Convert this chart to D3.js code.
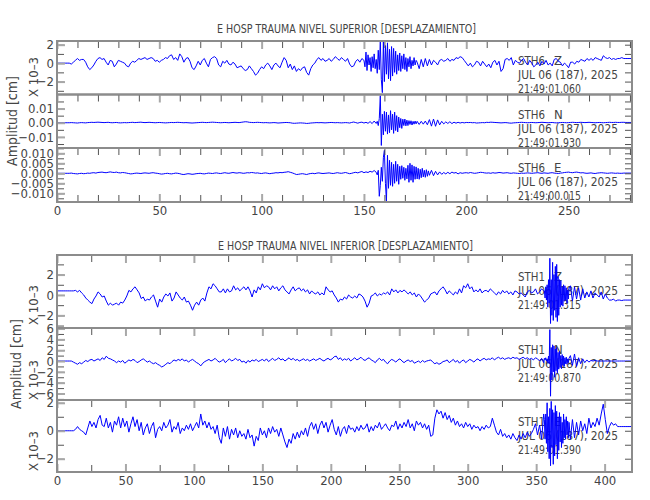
<!DOCTYPE html>
<html>
<head>
<meta charset="utf-8">
<script src="https://cdn.jsdelivr.net/npm/d3@7"></script>
<style>
  body { margin: 0; background: #fff; }
  text { font-family: "Liberation Sans Narrow", "DejaVu Sans Condensed", sans-serif; fill: #444; }
</style>
</head>
<body>
<script>
// Sample spacing (s) of each record, and of the denser windows around the arrival
var supStep = 1;
var infStep = 1.5;
var burstStep = 0.5;

// NIVEL SUPERIOR, values in 10^-3 cm, one per second
var supZ = [
  0,0,0,0,0,0,0,-0.1,0.1,0.3,
  0.5,0.3,0.4,0.4,0.1,-0.4,-0.7,-0.5,-0.2,0.2,
  0.5,0.6,0.4,0.5,0.1,-0.2,0.3,0.2,-0.4,-0.1,
  0.3,0.2,0.1,0,-0.3,-0.4,0,0.2,0.1,0.3,
  0.5,0.4,0.5,0.6,0.4,0.5,0.6,0.5,0.2,0.3,
  0.1,0.3,0.4,0.6,0.5,0.8,0.9,0.4,0.6,0.3,
  1.0,0.7,0.1,0.5,0.6,0.2,-0.5,-0.7,-0.3,0.2,
  -0.2,0.3,0.5,0,-0.4,0.4,0.6,0.7,0.5,-0.2,
  -0.4,0.2,0,0.3,-0.1,-0.2,0.1,-0.1,-0.5,-0.4,
  -0.3,-0.6,-0.8,-0.7,-0.3,-0.6,-0.9,-1.3,-1.1,-0.7,
  -0.4,-0.6,-0.2,0,-0.3,-0.7,-0.2,0,-0.3,-0.5,
  0.1,0.6,0.3,-0.5,-0.1,-0.7,-0.3,-0.9,-0.6,-0.8,
  -0.5,-0.4,-1.0,-1.3,-0.6,-0.2,0,0.4,0.6,0.3,
  0.5,0.2,0.3,0.5,0.2,0.4,0.7,0.5,0.3,0.6,
  0.4,0.2,0.5,-0.1,-0.4,-0.3,0.2,0.4,0.1,0.5,
  0.3,-0.5,1.1,-0.9,0.8,-0.6,1.4,-1.2,1.9,-3.2,
  2.4,-2.1,1.8,-1.9,2.2,-1.6,1.3,-1.4,1.0,-1.0,
  0.9,-0.8,0.8,-1.1,0.6,-0.5,0.7,-0.6,0.4,-0.4,
  0.5,-0.3,0.4,-0.2,0.3,0.1,-0.2,0.3,0.4,0.2,
  0.3,0.5,0.2,0.4,0.3,0.6,0.5,0.7,0.6,0.3,
  0,-0.3,0,-0.4,-0.2,0.2,0.1,-0.3,0.2,-0.1,
  -0.4,-0.1,-0.5,0.1,0.3,-0.2,0.2,-0.9,-0.6,0.4,
  0.5,0.3,0.6,-0.2,0.3,0.1,0,0.3,0.5,0.1,
  -0.2,0.3,0,-0.4,-0.2,0.1,-0.3,0.2,-0.1,0.3,
  -0.2,0,-0.3,0.4,0.5,0.2,0.1,-0.3,0,-0.2,
  -0.5,0.1,0.1,-0.1,0.2,0.1,0.4,0.3,0.2,0.5,
  0.3,0.5,0.3,0.6,0.5,0.4,0.3,0.8,0.6,0.5,
  0.6,0.4,0.5,0.4,0.5,0.5,0.6,0.5,0.5,0.5,
  0.5,0.5,0.5
];
var supN = [
  0,0,0,0,0,0,0,0.1,0,-0.1,
  -0.2,0,0.1,0,-0.1,0.1,0.2,0.3,0.2,0.3,
  0.4,0.3,0.2,0.1,0.2,0.3,0.1,0,0.1,0.2,
  0,-0.1,0,0.1,0,0.1,0.2,0.3,0.1,0.2,
  0.3,0.4,0.2,0.1,0.2,0.3,0.2,0.1,0,0.1,
  0.2,0.1,0,-0.1,0,0.1,0.2,0.1,0.2,0.3,
  0.2,0.1,0,0.1,0,-0.1,-0.2,-0.1,0,0.1,
  0.2,0.3,0.2,0.1,0.2,0.3,0.4,0.3,0.2,0.1,
  0,0.1,0.2,0.1,0,0.1,0.2,0.3,0.2,0.1,
  0.3,0.5,0.7,0.6,0.3,0.2,0.1,0.2,0.3,0.2,
  0.1,0,0.1,0,-0.1,0,0.1,0,-0.2,-0.1,
  0,0.1,0.2,0.1,0,-0.3,-0.4,-0.3,-0.2,-0.1,
  -0.2,-0.3,-0.5,-0.4,-0.2,-0.1,0,0.1,0,0.1,
  0,-0.1,0,0.1,0.2,0.1,0,0.1,0,-0.1,
  0,0.1,0,-0.2,0.2,0.5,0.1,-0.3,0.2,0.4,
  -0.2,0.3,-0.4,0.8,-0.6,1.2,-2.5,3.0,19.0,-16.0,
  8.5,-7.5,7.0,-8.0,6.5,-6.0,7.5,-5.5,4.5,-3.5,
  3.0,-2.5,2.5,-2.0,1.8,-1.5,1.6,-1.2,1.0,-1.0,
  1.2,-1.4,2.2,-2.4,2.6,-2.5,2.0,-1.5,1.0,-0.8,
  0.6,-0.5,0.7,-0.6,0.4,-0.3,0.3,-0.2,0.2,-0.1,
  0.2,0.1,0.2,0,0.1,-0.2,-0.1,0,0.1,0,
  0.3,0.2,0.4,0.3,0.2,0.1,0,-0.1,0,0.1,
  0,-0.2,-0.3,-0.1,0,0.1,0.2,0.3,0.2,0.1,
  0,0.1,0.2,0.1,0,0.1,0.2,0.3,0.2,0.1,
  0,0.1,0.2,0,-0.1,0,0.1,0.2,0.1,0,
  0.1,0.2,0.3,0.2,0.1,0.2,0.3,0.2,0.1,0.2,
  0.3,0.2,0.1,0,0.1,0.2,0.1,0,0.1,0.2,
  0.3,0.2,0.2,0.3,0.2,0.2,0.3,0.3,0.2,0.2,
  0.2,0.2,0.2
];
var supE = [
  0,0,0,0,0,0,0,0.1,-0.1,-0.2,
  -0.3,-0.1,0,-0.2,-0.1,0.1,0,0.2,0.3,0.1,
  0.4,0.5,0.6,0.4,0.3,0.5,0.7,0.5,0.4,0.6,
  0.3,0.2,0.4,0.3,0.1,-0.1,-0.3,-0.2,0,0.1,
  0,-0.1,0.1,0.2,0.1,0,0.2,0.3,0.1,0,
  -0.2,-0.4,-0.3,-0.1,0,-0.2,-0.3,-0.1,0.1,0,
  -0.2,-0.5,-0.6,-0.4,-0.2,-0.3,-0.5,-0.4,-0.2,-0.1,
  0,-0.2,-0.3,-0.1,0.1,0,-0.1,0.1,0.2,0,
  -0.1,0.1,0.3,0.1,0,0.2,0.4,0.2,0.1,0.3,
  0.2,0,0.1,0.3,0.2,0.4,0.3,0.1,0.2,0,
  -0.1,0.1,0.2,0,-0.2,0,0.1,0.3,0.2,0.4,
  0.3,0.5,0.6,0.8,0.5,0.2,-0.2,-0.6,-0.5,-0.3,
  -0.2,-0.4,-0.6,-0.3,-0.1,0,-0.2,0.1,0.2,0,
  -0.1,0,0.1,0.2,0,-0.1,0.1,0.3,0.1,0,
  0.2,0.4,0.1,-0.2,0,0.3,0.5,0.2,0.6,0.9,
  0.3,0.7,0.4,1.0,0.6,1.4,-0.8,-11.5,2.5,11.0,
  -14.0,11.5,-8.0,7.0,-6.5,6.0,-5.5,5.0,-4.5,4.0,
  -3.0,3.5,-4.0,5.0,-4.5,4.0,-3.5,3.0,-3.0,2.8,
  -2.5,2.2,-2.0,1.5,-1.2,1.0,-0.8,0.7,-0.5,0.4,
  -0.3,0.5,-0.2,0.6,0.1,0.4,-0.3,0.3,0,0.2,
  0.3,0.1,0.4,0.2,0,0.1,0.3,0.5,0.4,0.2,
  0.1,0.2,0,0.3,0.1,0.2,0.4,0.3,0.1,0.2,
  0.3,0.1,0,0.2,0.1,0,-0.1,0.1,0,0.1,
  0.2,0.1,0,0.1,0.2,0.3,0.1,0,0.2,0.1,
  0,0.2,0.3,0.1,0,-0.1,0.1,0.2,0.4,0.5,
  0.6,0.4,0.3,0.5,0.6,0.4,0.2,0.3,0.1,0,
  0.1,0.2,0,-0.1,0.1,0.2,0.3,0.2,0.1,0,
  0.1,0.2,0.1,0,0.1,0,0,0.1,0.1,0.1,
  0.1,0.1,0.1
];

// Arrival windows read every 0.5 s (10^-3 cm), with their start times
var supBurstStart = [150, 156, 156];
var supZBurst = [
  0.3,-0.4,1.2,-0.8,0.9,-0.2,0.6,-0.9,0.7,-0.5,
  1.0,-0.6,0.4,-1.1,1.4,-0.7,2.4,-1.8,-3.2,2.3,
  -2.0,1.9,-1.2,2.2,-1.7,1.5,-1.9,1.8,-1.4,1.6,
  -1.0,1.3,-1.2,0.9,-0.8,1.1,-0.9,0.8,-0.6,1.0,
  -0.7,0.6,-0.9,0.5,-0.4,0.7,-0.6,0.3,-0.3,0.6,
  -0.2,0.3,0.1
];
var supNBurst = [
  -0.5,1.0,-2.0,3.0,19.0,-16.0,6.0,-8.5,8.0,-6.0,
  7.5,-8.0,5.5,-7.0,8.5,-5.0,6.0,-7.5,7.5,-5.5,
  5.0,-6.5,4.0,-3.5,3.0,-4.0,2.5,-2.0,2.6,-2.2,
  1.8,-2.0,1.5,-1.2,1.4,-1.6,1.0,-1.0,1.2,-0.8,
  1.0
];
var supEBurst = [
  0.5,-0.8,1.5,-11.5,-6.0,3.0,-4.0,8.0,11.5,-5.0,
  -14.0,9.0,-7.5,6.5,-6.0,5.5,-6.5,4.5,-5.0,6.0,
  -4.0,4.5,-5.5,3.5,-3.0,3.8,-2.5,3.0,-3.5,2.5,
  -2.8,4.0,-4.5,5.0,-3.5,4.2,-4.5,3.5,-3.0,3.2,
  -2.8,2.5,-3.0,2.0,-2.2,2.5,-1.8,1.5,-2.0,1.8,
  -1.5,1.2,-1.0
];

// NIVEL INFERIOR, values in 10^-3 cm, one per 1.5 s
var infZ = [
  0.4,0.4,0.4,0.4,0.4,0.4,0.4,0.4,0.4,0.45,
  0.3,0.45,0.2,0,-0.3,-0.5,-0.7,-0.85,-0.4,-0.1,
  0.3,0.1,-0.2,-0.1,-0.6,-1.0,-0.8,-1.0,-0.9,-0.8,
  -1.0,-0.7,-0.8,-0.5,-0.1,0.45,0.3,0.6,0.8,0.5,
  0.2,-0.35,-0.2,-0.6,-0.4,-0.5,-0.2,0,-0.6,-1.2,
  -0.4,-0.7,-0.2,0.1,-0.1,0.2,-0.6,-0.3,0.3,0,
  -0.3,-0.5,-0.2,-0.7,-0.6,-1.0,-1.5,-1.0,-0.7,-1.0,
  -0.5,-0.3,-0.6,0.2,0.8,0.6,1.1,0.9,0.6,0.3,
  0.3,0.6,0.2,0.6,0.3,0.4,0.9,0.5,0.7,0.4,
  0.6,0.8,0.5,0.8,0.4,-0.2,0.5,0.2,0.8,0.5,
  1.1,0.7,0.9,0.8,0.5,0.9,0.6,0.8,0.4,0.7,
  0.9,0.5,0.3,0.1,0.5,0.8,0.4,0.6,0.7,0.4,
  0.6,0.3,0.5,0.1,0.4,0.2,0.1,0.3,0,0.2,
  0,0.8,0.5,0.3,0.4,0,-0.3,-0.7,-0.4,-0.5,
  -0.2,-0.4,0,-0.2,-0.3,-0.1,-0.3,0.1,0,-0.2,
  -0.6,-1.2,-0.8,-0.1,0,0.2,-0.1,0.1,0,0.2,
  0.1,0.3,0,0.6,0.3,0.5,0.2,0.45,0.3,0.5,
  0.3,0.1,0.3,0,0.2,-0.2,0.1,-0.1,-0.4,-0.7,
  -0.5,-0.3,0.1,0.2,0.3,0,0.4,0.6,0.8,0.5,
  0.1,0.4,0.2,0,0.3,0.1,0.6,0.2,0.9,0.7,
  1.1,0.6,0.8,0.3,0.5,0.3,0.6,0.2,0.4,0.45,
  0.3,0.6,0.4,0.2,0,0.3,0.1,0.45,0.2,0.4,
  0.1,0.3,0,0.4,0.3,0.1,0.2,0,-0.2,0.3,
  0.45,0.2,0.3,0.6,0.1,0.3,0.6,0.4,-0.3,1.2,
  3.6,-2.8,2.9,-2.5,3.2,-2.2,1.8,-1.5,1.2,-1.0,
  0.9,-0.6,0.8,-0.4,0.7,-0.5,0.6,-0.3,0.3,-0.2,
  0.4,-0.3,0.2,0,-0.2,0.3,-0.4,0.1,-0.3,-0.5,
  -0.5,-0.4,-0.6,-0.5,-0.5,-0.55,-0.5,-0.5,-0.5,-0.5,
  -0.5
];
var infN = [
  0,0,0,0,0,0,0,0,-0.2,-0.4,
  -0.6,-0.3,-0.5,-0.2,0.1,-0.1,0.2,0.3,0,0.2,
  0.4,0.1,0.6,0.3,0.9,0.5,0.4,0.2,0,-0.3,
  0,-0.2,0.1,-0.4,-0.1,0.2,0,0.3,0.1,-0.3,
  -0.1,0.2,0.4,0.1,-0.2,0,-0.3,-0.5,-0.3,-0.6,
  -0.8,-1.1,-0.9,-0.6,-0.3,-0.5,-0.1,0.2,0,0.3,
  0.1,0.4,0,0.2,-0.2,0.1,0.3,0,-0.3,-0.5,
  -0.9,-0.4,-0.1,0.1,0.3,0,0.2,0.5,0.1,-0.2,
  0,0.3,-0.3,0.1,0.4,0,0.2,0.5,0.1,0.3,
  -0.2,0,-0.4,0.1,-0.2,0.2,0,0.3,-0.1,0.1,
  0.3,0,0.4,-0.1,0.2,0.5,0.1,0.3,0.6,0.2,
  0.4,0,0.3,0.6,0.2,0.5,0.1,0.3,0,0.2,
  0.4,0.1,0.3,0,0.2,0.4,0.1,0.3,0.5,0.2,
  0,0.3,0.5,0.2,0.4,0.8,0.9,0.3,0.6,0.1,
  0.4,0.2,0.5,0,0.3,0.6,0.2,0.4,0.7,0.3,
  0.1,0.4,0.6,0.2,0,-0.3,0.2,0.5,0.1,0.3,
  -0.2,-0.5,0,0.3,0.1,-0.2,0.2,0.4,0,-0.3,
  0,0.2,-0.1,0.1,-0.4,-0.2,0,-0.3,0.1,-0.2,
  0,0.1,0.2,-0.2,-0.5,-0.3,-0.6,-0.4,-0.1,0,
  0.2,-0.3,0,0.3,-0.2,0.1,-0.4,0,0.2,-0.3,
  0,0.3,0.1,-0.2,0.2,0.4,0,0.3,0.5,0.2,
  0.4,0.3,0.6,0.2,0.5,0.7,0.4,0.6,0.3,0.5,
  0.6,0.4,0.7,0.5,0.6,0.3,0.5,0.7,0.4,0.6,
  0.3,0.5,0.2,0.6,0.4,0,0.5,-0.3,0.8,-1.0,
  5.8,-6.5,3.5,-3.0,2.8,-2.5,2.0,-1.8,1.5,-1.2,
  1.0,-0.8,1.3,-1.0,0.6,-0.5,0.4,-0.3,0.2,-0.2,
  0.1,0,0.1,0,0,0,0,0,0,0,
  0,0,0,0,0,0,0,0,0,0,
  0
];
var infE = [
  0,0,0,0,0,0,0,0,0,0.1,
  0.3,0.1,0,-0.1,-0.3,0.2,0.7,0.3,0.6,0.2,
  0.8,1.1,0.4,0.3,0.9,0.2,0.6,-0.1,0.7,0.4,
  1.0,0.2,0.9,0.3,0.7,-0.1,0.5,1.0,0.3,0.8,
  0,0.6,-0.3,0.2,0.5,-0.2,0.3,0.6,-0.5,0.1,
  0.3,0,0.6,0.2,0.4,0.8,-0.1,0.3,0.1,0.6,
  -0.2,0.2,0,0.4,0.1,0.5,0,0.3,0.6,0.2,
  1.2,0.4,0.7,0.2,0.6,0.1,0.3,-0.2,0.4,-0.5,
  -0.9,0.2,-0.4,0.3,-0.6,0.1,-0.3,0.2,-0.5,0,
  -0.4,-0.2,-0.6,0.1,-0.5,-0.3,-1.1,-0.4,-0.7,0.2,
  -0.3,0,-0.5,0.2,-0.2,0.3,-0.1,0.1,-0.4,0.2,
  -0.3,-0.8,-1.2,-0.6,-0.9,-0.2,-0.6,-0.1,-0.5,0,
  -0.3,0.2,-0.4,0.3,0.6,0.1,0.5,-0.2,0.4,0.7,
  0.2,0.6,-0.1,0.4,0.8,0.1,-0.3,0.3,-0.4,0.1,
  0.3,-0.2,0.4,0.1,0.2,-0.1,0.3,0,0.4,0.1,
  0.2,0.5,-0.1,0.3,0,0.4,0.2,0.6,0.1,0.3,
  0.5,0.2,0,0.4,0.3,0.7,0.1,0.5,0.2,0.6,
  0.3,0.8,0.2,0.5,0,0.7,0.4,0.6,0.2,0.5,
  0.1,0.4,-0.4,-0.3,0.9,1.5,1.2,1.4,0.9,1.3,
  0.8,1.1,0.6,0.9,0.4,0.7,0.3,0.5,0.2,0.6,
  0.3,0.5,0.1,0.4,0.2,0.3,0,0.3,0.1,0.4,
  0.2,0.3,0.9,0.4,-0.1,-0.3,0.1,-0.4,-0.2,-0.5,
  -0.3,-0.6,-0.2,-0.5,-0.7,-0.3,-0.6,-0.2,-0.5,-0.1,
  -0.4,-0.2,0.1,0.5,-0.3,0.4,-0.6,1.2,-0.9,2.0,
  -2.5,2.1,-2.0,1.6,-1.8,1.4,-1.2,1.3,-0.9,1.0,
  -0.6,0.8,-0.5,0.6,-0.3,0.7,0,0.5,-0.2,0.9,
  0.2,0.6,0.3,0.9,0.4,1.2,1.9,0.8,-0.2,0.3,
  0.6,0.4,0.5,0.3,0.3,0.3,0.3,0.3,0.3,0.3,
  0.3
];

var infBurstStart = [356, 356, 356];
var infZBurst = [
  0.4,-0.3,0.8,-0.5,1.0,-1.2,1.5,-0.8,3.6,-2.8,
  1.5,-2.0,3.2,-2.5,2.0,-1.5,2.8,-2.2,3.0,-2.6,
  1.8,-2.0,1.5,-1.2,1.4,-1.0,0.8,-1.1,1.0,-0.6,
  0.9,-0.5,0.7,-0.8,0.5,-0.4,0.6
];
var infNBurst = [
  0.5,0.2,0.6,0,0.4,-0.3,0.9,-0.5,5.8,-6.5,
  2.5,-3.5,3.0,-2.0,2.8,-3.0,2.2,-1.8,2.5,-2.2,
  1.6,-1.5,1.8,-1.2,1.0,-1.4,1.2,-0.8,0.9,-1.0,
  0.6,-0.5,0.7,-0.6,0.4,-0.3,0.5
];
var infEBurst = [
  0.8,-0.6,1.2,-0.9,2.0,-1.5,1.0,-2.0,1.6,-2.5,
  2.1,-1.2,1.5,-2.4,1.3,-1.8,1.8,-1.0,1.4,-2.0,
  1.0,-1.4,1.3,-0.8,1.0,-1.2,0.6,-0.9,1.2,-0.5,
  0.8,-0.6,1.0,-0.3,0.7,-0.5,0.6
];

// Tick values
var supXTicks = [0, 50, 100, 150, 200, 250];
var infXTicks = [0, 50, 100, 150, 200, 250, 300, 350, 400];
var supZTicks = [-2, 0, 2];
var supNTicks = [-0.01, 0, 0.01];
var supETicks = [-0.010, -0.005, 0, 0.005, 0.010];
var infZTicks = [-2, 0, 2];
var infNTicks = [-6, -4, -2, 0, 2, 4, 6];
var infETicks = [-2, 0, 2];

// Titles and trace headers
var supTitle = "E HOSP TRAUMA NIVEL SUPERIOR [DESPLAZAMIENTO]";
var infTitle = "E HOSP TRAUMA NIVEL INFERIOR [DESPLAZAMIENTO]";
var supStation = "STH6";
var infStation = "STH1";
var components = ["Z", "N", "E"];
var traceDate = "JUL 06 (187), 2025";
var supTimes = ["21:49:01.060", "21:49:01.930", "21:49:00.015"];
var infTimes = ["21:49:01.315", "21:49:00.870", "21:49:01.390"];

var svgWidth = 650;
var svgHeight = 500;
var plotLeft = 57;
var plotRight = 632;

var svg = d3.select("body")
  .append("svg")
  .attr("width", svgWidth)
  .attr("height", svgHeight);

svg.append("rect").attr("width", svgWidth).attr("height", svgHeight).attr("fill", "#fff");

// whole record, with the arrival window swapped for its denser reading
function traceOf(values, step, burst, start) {
  var pts = values.map(function(v, i) { return { t: i * step, v: v }; });
  var end = start + (burst.length - 1) * burstStep;
  var dense = burst.map(function(v, i) { return { t: start + i * burstStep, v: v }; });
  return pts.filter(function(d) { return d.t < start; })
    .concat(dense, pts.filter(function(d) { return d.t > end; }));
}

function styleAxis(g, major) {
  g.select(".domain").remove();
  g.attr("font-family", null).attr("font-size", 13);
  g.selectAll("line")
    .attr("stroke", major ? "#a8a8a8" : "#555")
    .attr("stroke-width", major ? 2 : 1);
  g.selectAll("text").attr("fill", "#3a3a3a");
}

function drawPlot(plot) {
  var xScale = d3.scaleLinear().domain(plot.xDomain).range([plotLeft, plotRight]);

  svg.append("text")
    .attr("x", plot.titleX)
    .attr("y", plot.titleY)
    .attr("font-size", 12)
    .attr("textLength", plot.titleWidth)
    .attr("lengthAdjust", "spacingAndGlyphs")
    .text(plot.title);

  plot.panels.forEach(function(p, k) {
    var yScale = d3.scaleLinear().domain(p.domain).range([p.bottom, p.top]);
    var clipId = plot.id + "clip" + k;

    svg.append("clipPath").attr("id", clipId)
      .append("rect")
      .attr("x", plotLeft).attr("y", p.top)
      .attr("width", plotRight - plotLeft).attr("height", p.bottom - p.top);

    // header text sits under the trace
    var head = svg.append("g").attr("font-size", 13);
    head.append("text").attr("x", 518).attr("y", p.top + plot.headOff[0])
      .attr("textLength", 27).attr("lengthAdjust", "spacingAndGlyphs").text(plot.station);
    head.append("text").attr("x", 554).attr("y", p.top + plot.headOff[0]).text(components[k]);
    head.append("text").attr("x", 518).attr("y", p.top + plot.headOff[1])
      .attr("textLength", 100).attr("lengthAdjust", "spacingAndGlyphs").text(traceDate);
    head.append("text").attr("x", 518).attr("y", p.top + plot.headOff[2])
      .attr("textLength", 63).attr("lengthAdjust", "spacingAndGlyphs").text(plot.times[k]);

    // trace
    var line = d3.line()
      .x(function(d) { return xScale(d.t); })
      .y(function(d) { return yScale(d.v * p.unit); });

    svg.append("path")
      .datum(traceOf(p.values, plot.step, p.burst, p.burstStart))
      .attr("clip-path", "url(#" + clipId + ")")
      .attr("fill", "none")
      .attr("stroke", "#0000ff")
      .attr("stroke-width", 1)
      .attr("d", line);

    // y axes, ticks point inward
    var yMinor = d3.range(Math.ceil(p.domain[0] / p.minor - 1e-9) * p.minor, p.domain[1] + 1e-9, p.minor);
    svg.append("g").attr("transform", "translate(" + plotLeft + ",0)")
      .call(d3.axisLeft(yScale).tickValues(yMinor).tickSize(-7).tickFormat(""))
      .call(styleAxis, false);
    svg.append("g").attr("transform", "translate(" + plotLeft + ",0)")
      .call(d3.axisLeft(yScale).tickValues(p.ticks).tickSize(-8).tickPadding(3).tickFormat(d3.format(p.fmt)))
      .call(styleAxis, true);
    svg.append("g").attr("transform", "translate(" + plotRight + ",0)")
      .call(d3.axisRight(yScale).tickValues(yMinor).tickSize(-7).tickFormat(""))
      .call(styleAxis, false);

    // x ticks along the top edge of each panel
    var xMinor = d3.range(0, plot.xDomain[1], plot.xMinor).filter(function(v) { return v % 50 !== 0; });
    svg.append("g").attr("transform", "translate(0," + p.top + ")")
      .call(d3.axisTop(xScale).tickValues(xMinor).tickSize(-7).tickFormat(""))
      .call(styleAxis, false);
    svg.append("g").attr("transform", "translate(0," + p.top + ")")
      .call(d3.axisTop(xScale).tickValues(plot.xTicks).tickSize(-8).tickFormat(""))
      .call(styleAxis, true);

    if (k === plot.panels.length - 1) {
      svg.append("g").attr("transform", "translate(0," + p.bottom + ")")
        .call(d3.axisBottom(xScale).tickValues(xMinor).tickSize(-7).tickFormat(""))
        .call(styleAxis, false);
      svg.append("g").attr("transform", "translate(0," + p.bottom + ")")
        .call(d3.axisBottom(xScale).tickValues(plot.xTicks).tickSize(-8).tickPadding(4).tickFormat(d3.format("d")))
        .call(styleAxis, true);
    }

    // frame
    svg.append("rect")
      .attr("x", plotLeft).attr("y", p.top)
      .attr("width", plotRight - plotLeft).attr("height", p.bottom - p.top)
      .attr("fill", "none").attr("stroke", "#8c8c8c").attr("stroke-width", 2);

    if (p.scaleNote) {
      svg.append("text")
        .attr("transform", "translate(38," + p.noteY + ") rotate(-90)")
        .attr("text-anchor", "middle")
        .attr("font-size", 13)
        .text("X 10\u20133");
    }
  });

  svg.append("text")
    .attr("transform", "translate(" + plot.ampX + "," + plot.ampY + ") rotate(-90)")
    .attr("text-anchor", "middle")
    .attr("font-size", 14)
    .text("Amplitud [cm]");
}

drawPlot({
  id: "sup",
  title: supTitle, titleX: 217, titleY: 33, titleWidth: 259,
  station: supStation, times: supTimes, headOff: [24, 38, 52],
  step: supStep, xDomain: [0, 281], xTicks: supXTicks, xMinor: 10,
  ampX: 17, ampY: 121,
  panels: [
    { values: supZ, burst: supZBurst, burstStart: supBurstStart[0], unit: 1,
      domain: [-3.4, 2.4], ticks: supZTicks, minor: 1, fmt: "d",
      top: 41, bottom: 94.5, scaleNote: true, noteY: 77 },
    { values: supN, burst: supNBurst, burstStart: supBurstStart[1], unit: 0.001,
      domain: [-0.0178, 0.0199], ticks: supNTicks, minor: 0.005, fmt: ".2f",
      top: 94.5, bottom: 148 },
    { values: supE, burst: supEBurst, burstStart: supBurstStart[2], unit: 0.001,
      domain: [-0.01435, 0.01265], ticks: supETicks, minor: 0.0025, fmt: ".3f",
      top: 148, bottom: 202 }
  ]
});

drawPlot({
  id: "inf",
  title: infTitle, titleX: 218, titleY: 250, titleWidth: 255,
  station: infStation, times: infTimes, headOff: [26, 40, 54],
  step: infStep, xDomain: [0, 420], xTicks: infXTicks, xMinor: 25,
  ampX: 21, ampY: 364,
  panels: [
    { values: infZ, burst: infZBurst, burstStart: infBurstStart[0], unit: 1,
      domain: [-3.24, 3.92], ticks: infZTicks, minor: 1, fmt: "d",
      top: 255, bottom: 328, scaleNote: true, noteY: 305 },
    { values: infN, burst: infNBurst, burstStart: infBurstStart[1], unit: 1,
      domain: [-7.2, 6.1], ticks: infNTicks, minor: 1, fmt: "d",
      top: 328, bottom: 400, scaleNote: true, noteY: 380 },
    { values: infE, burst: infEBurst, burstStart: infBurstStart[2], unit: 1,
      domain: [-2.95, 2.2], ticks: infETicks, minor: 1, fmt: "d",
      top: 400, bottom: 472, scaleNote: true, noteY: 451 }
  ]
});
</script>
</body>
</html>
